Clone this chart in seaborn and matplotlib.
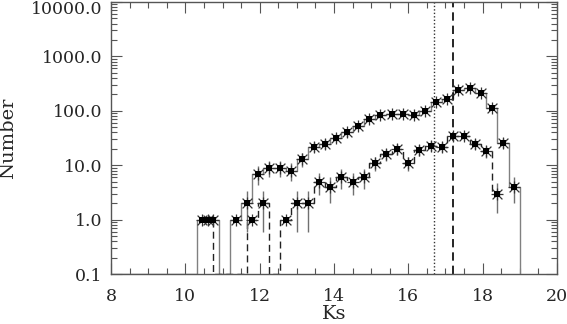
import numpy as np
import pandas as pd
import seaborn as sns
import matplotlib
matplotlib.use("Agg")
import matplotlib.pyplot as plt
import matplotlib.transforms as mtransforms
from matplotlib.ticker import FixedLocator, FormatStrFormatter, MultipleLocator, LogLocator, NullFormatter

# ---------------- data ----------------
# solid histogram (bin width 0.3, centers)
solid_x = [10.45, 10.75, 11.05, 11.35, 11.65, 11.95, 12.25, 12.55, 12.85, 13.15,
           13.45, 13.75, 14.05, 14.35, 14.65, 14.95, 15.25, 15.55, 15.85, 16.15,
           16.45, 16.75, 17.05, 17.35, 17.65, 17.95, 18.25, 18.55, 18.85]
solid_n = [1, 1, 0, 1, 2, 7, 9, 9, 8, 13,
           22, 25, 32, 40, 53, 72, 83, 86, 89, 83,
           98, 143, 166, 245, 263, 213, 115, 26, 4]
solid_err = [0, 0, 0, 0, 1.4, 2.6, 3.0, 3.0, 2.8, 3.6,
             4.7, 5.0, 5.7, 6.3, 7.3, 8.5, 9.1, 9.3, 9.4, 9.1,
             9.9, 12.0, 12.9, 15.7, 16.2, 14.6, 10.7, 5.1, 2.0]

# dashed histogram (offset by half a bin)
dash_x = [10.6, 10.9, 11.2, 11.5, 11.8, 12.1, 12.4, 12.7, 13.0, 13.3,
          13.6, 13.9, 14.2, 14.5, 14.8, 15.1, 15.4, 15.7, 16.0, 16.3,
          16.6, 16.9, 17.2, 17.5, 17.8, 18.1, 18.4]
dash_n = [1, 0, 0, 0, 1, 2, 0, 1, 2, 2,
          5, 4, 6, 5, 6, 11, 16, 20, 11, 19,
          23, 22, 34, 35, 25, 18, 3]
dash_err = [0, 0, 0, 0, 0, 1.4, 0, 0, 1.4, 1.4,
            2.2, 2.0, 2.4, 2.2, 2.4, 3.3, 4.0, 4.5, 3.3, 4.4,
            4.8, 4.7, 5.8, 5.9, 5.0, 4.2, 1.7]

ref_dotted = 16.7
ref_dashed = 17.2
ytick_vals = [0.1, 1.0, 10.0, 100.0, 1000.0, 10000.0]
xtick_vals = [8, 10, 12, 14, 16, 18, 20]
BINW = 0.3
YFLOOR = 0.1

# ---------------- figure ----------------
sns.set_theme(style="ticks")
plt.rcParams['font.family'] = ['DejaVu Serif']
plt.rcParams['font.size'] = 11.5

fig = plt.figure(figsize=(5.67, 3.24), dpi=100)
ax = fig.add_axes([0.196, 0.154, 0.786, 0.840])

def step_frame(centers, counts, lead=None):
    c = np.asarray(centers, float)
    n = np.asarray(counts, float)
    n = np.where(n > 0, n, YFLOOR)
    edges = list(c - BINW / 2) + [c[-1] + BINW / 2]
    vals = list(n) + [n[-1]]
    if lead is not None:
        edges = [lead] + edges
        vals = [YFLOOR] + vals
    return pd.DataFrame({"x": edges, "y": vals})

df_s = step_frame(solid_x, solid_n, lead=8.0)
df_s.loc[len(df_s) - 1, "y"] = YFLOOR
df_s = pd.concat([df_s, pd.DataFrame({"x": [19.0001], "y": [YFLOOR]})], ignore_index=True)
df_d = step_frame(dash_x, dash_n)

sns.lineplot(data=df_s, x="x", y="y", drawstyle="steps-post", color="#808080",
             lw=1.0, estimator=None, sort=False, ax=ax)
sns.lineplot(data=df_d, x="x", y="y", drawstyle="steps-post", color="#222222",
             lw=1.0, estimator=None, sort=False, ax=ax)
ax.lines[-1].set_dashes([5, 3])

# markers and error bars
def points(xs, ns, es):
    d = pd.DataFrame({"x": xs, "n": ns, "e": es})
    return d[d.n > 0]

for xs, ns, es in [(solid_x, solid_n, solid_err), (dash_x, dash_n, dash_err)]:
    p = points(xs, ns, es)
    pe = p[p.e > 0]
    ax.errorbar(pe.x, pe.n, yerr=pe.e, fmt="none", ecolor="#707070", elinewidth=1.0, capsize=0)
    sns.scatterplot(data=p, x="x", y="n", marker="+", s=80, color="#333333",
                    linewidth=0.9, ax=ax, zorder=5)
    sns.scatterplot(data=p, x="x", y="n", marker="x", s=50, color="#333333",
                    linewidth=0.9, ax=ax, zorder=5)
    sns.scatterplot(data=p, x="x", y="n", marker="s", s=14, color="black",
                    linewidth=0, ax=ax, zorder=6)

ax.axvline(ref_dotted, color="#333333", lw=1.0, ls=(0, (1, 1.5)))
ax.axvline(ref_dashed, color="black", lw=1.2, ls=(0, (5, 3)))

ax.set_yscale("log")
ax.set_xlim(8, 20)
ax.set_ylim(0.1, 10000)
ax.yaxis.set_major_locator(FixedLocator(ytick_vals))
ax.yaxis.set_major_formatter(FormatStrFormatter("%.1f"))
ax.yaxis.set_minor_locator(LogLocator(base=10, subs=np.arange(2, 10)))
ax.yaxis.set_minor_formatter(NullFormatter())
ax.xaxis.set_major_locator(FixedLocator(xtick_vals))
ax.xaxis.set_minor_locator(MultipleLocator(0.5))
ax.tick_params(which="both", direction="in", top=True, right=True, color="#555555")
ax.tick_params(axis="y", which="major", length=8, width=0.8, labelsize=12.5, pad=6)
ax.tick_params(axis="x", which="major", length=8, width=0.8, labelsize=12.5, pad=10)
ax.tick_params(which="minor", length=4, width=0.8)
for s in ax.spines.values():
    s.set_color("#555555")
    s.set_linewidth(1.0)

ax.set_xlabel("Ks", fontsize=14, labelpad=0)
ax.set_ylabel("Number", fontsize=14, labelpad=10)

fig.canvas.draw()
# shift the top y tick label down so it stays inside the figure
for lab in ax.get_yticklabels():
    if lab.get_text() == "10000.0":
        lab.set_transform(lab.get_transform() +
                          mtransforms.ScaledTranslation(0, -6 / 100, fig.dpi_scale_trans))

fig.savefig("out.png", dpi=100)
